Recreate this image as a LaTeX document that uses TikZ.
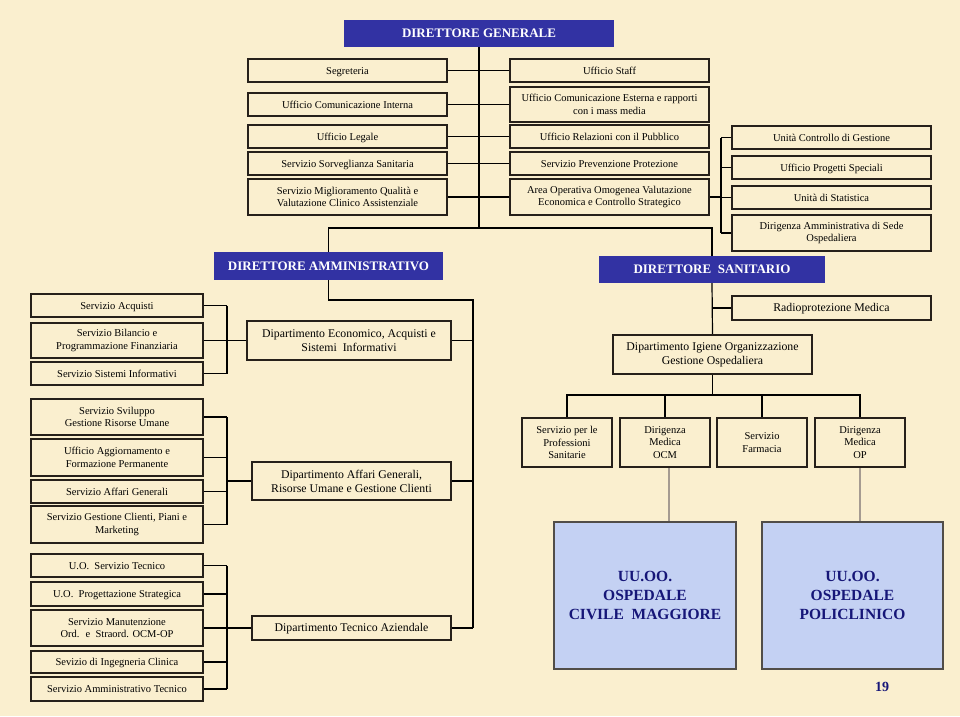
\documentclass[tikz,border=0pt]{standalone}
\usepackage{fontspec}
\setmainfont{Liberation Serif}
\usepackage{xcolor}
\usepackage{tikz}
\usetikzlibrary{positioning,calc,backgrounds}
\definecolor{DirBlue}{RGB}{50,50,163}

\begin{document}
\begin{tikzpicture}[x=1pt,y=-1pt]
	\definecolor{carta}{RGB}{250,239,207}
	\definecolor{bordo}{RGB}{38,32,26}
	\definecolor{celeste}{RGB}{196,209,243}
	\definecolor{navy}{RGB}{22,22,120}
	\definecolor{grigio}{RGB}{165,155,145}
	\tikzset{
		dim/.style 2 args={minimum width=#1, minimum height=#2},
		una/.style={align=none, text height=8pt, text depth=1pt},
		ufficio/.style={
			shape=rectangle,
			draw=bordo,
			line width=1.2pt,
			fill=carta,
			inner sep=1pt,
			align=center,
			font=\fontsize{10.5}{12.5}\selectfont,
			text=black
		},
		dipart/.style={ufficio, font=\fontsize{11.8}{14}\selectfont},
		direttore/.style={
			shape=rectangle,
			fill=DirBlue,
			inner sep=1pt,
			font=\fontsize{13}{15}\selectfont\bfseries,
			text=white
		},
		ospedale/.style={
			shape=rectangle,
			draw=bordo!80,
			line width=1.3pt,
			fill=celeste,
			align=center,
			font=\fontsize{15.5}{19}\selectfont\bfseries,
			text=navy
		},
		link/.style={draw=black, line width=1.2pt},
		glink/.style={draw=grigio, line width=2.4pt}
	}

	\useasboundingbox (0,0) rectangle (960,716);

	% direzione generale e staff
	\node[direttore, dim={270}{27}] (dg) at (479,33.5) {DIRETTORE GENERALE};

	\node[ufficio, una, dim={199}{23}] (seg)    at (347.5,70.5)  {Segreteria};
	\node[ufficio, una, dim={199}{23}] (comint) at (347.5,104.5) {Ufficio Comunicazione Interna};
	\node[ufficio, una, dim={199}{23}] (legale) at (347.5,136.5) {Ufficio Legale};
	\node[ufficio, una, dim={199}{23}] (sorv)   at (347.5,163.5) {Servizio Sorveglianza Sanitaria};
	\node[ufficio, dim={199}{36}] (migl)   at (347.5,197)   {Servizio Miglioramento Qualità e\\Valutazione Clinico Assistenziale};

	\node[ufficio, una, dim={199}{23}] (staff)  at (609.5,70.5)  {Ufficio Staff};
	\node[ufficio, dim={199}{35}] (comest) at (609.5,104.5) {Ufficio Comunicazione Esterna e rapporti\\con i mass media};
	\node[ufficio, una, dim={199}{23}] (urp)    at (609.5,136.5) {Ufficio Relazioni con il Pubblico};
	\node[ufficio, una, dim={199}{23}] (prev)   at (609.5,163.5) {Servizio Prevenzione Protezione};
	\node[ufficio, dim={199}{36}] (area)   at (609.5,197)   {Area Operativa Omogenea Valutazione\\Economica e Controllo Strategico};

	\node[ufficio, una, dim={199}{23}] (ucg)    at (831.5,137.5) {Unità Controllo di Gestione};
	\node[ufficio, una, dim={199}{23}] (ups)    at (831.5,167.5) {Ufficio Progetti Speciali};
	\node[ufficio, una, dim={199}{23}] (stat)   at (831.5,197.5) {Unità di Statistica};
	\node[ufficio, dim={199}{36}] (dasede) at (831.5,233)   {Dirigenza Amministrativa di Sede\\Ospedaliera};

	\node[direttore, dim={229}{28}] (da) at (328.5,266)   {DIRETTORE AMMINISTRATIVO};
	\node[direttore, dim={226}{27}] (ds) at (712,269.5)   {DIRETTORE~ SANITARIO};

	% area amministrativa
	\node[ufficio, una, dim={172}{23}] (acq)    at (117,305.5) {Servizio Acquisti};
	\node[ufficio, dim={172}{35}] (bil)    at (117,340.5) {Servizio Bilancio e\\Programmazione Finanziaria};
	\node[ufficio, una, dim={172}{23}] (sinf)   at (117,373.5) {Servizio Sistemi Informativi};
	\node[ufficio, dim={172}{36}] (svil)   at (117,417)   {Servizio Sviluppo\\Gestione Risorse Umane};
	\node[ufficio, dim={172}{37}] (aggior) at (117,457.5) {Ufficio Aggiornamento e\\Formazione Permanente};
	\node[ufficio, una, dim={172}{23}] (affgen) at (117,491.5) {Servizio Affari Generali};
	\node[ufficio, dim={172}{37}] (gcli)   at (117,524.5) {Servizio Gestione Clienti, Piani e\\Marketing};
	\node[ufficio, una, dim={172}{23}] (ust)    at (117,565.5) {U.O.~ Servizio Tecnico};
	\node[ufficio, una, dim={172}{24}] (uprog)  at (117,594)   {U.O.~ Progettazione Strategica};
	\node[ufficio, dim={172}{36}] (manut)  at (117,628)   {Servizio Manutenzione\\Ord.~ e~ Straord. OCM-OP};
	\node[ufficio, una, dim={172}{22}] (ingc)   at (117,662)   {Sevizio di Ingegneria Clinica};
	\node[ufficio, una, dim={172}{24}] (ammt)   at (117,689)   {Servizio Amministrativo Tecnico};

	\node[dipart, dim={204}{39}] (decon) at (349,340.5)  {Dipartimento Economico, Acquisti e\\Sistemi~ Informativi};
	\node[dipart, dim={199}{38}] (daff)  at (351.5,481)  {Dipartimento Affari Generali,\\Risorse Umane e Gestione Clienti};
	\node[dipart, una, dim={199}{24}] (dtec)  at (351.5,628)  {Dipartimento Tecnico Aziendale};

	% area sanitaria
	\node[dipart, una, dim={199}{24}] (radio) at (831.5,308)  {Radioprotezione Medica};
	\node[dipart, dim={199}{39}] (digo)  at (712.5,354.5) {Dipartimento Igiene Organizzazione\\Gestione Ospedaliera};

	\node[ufficio, dim={90}{49}] (sprof) at (567,442.5) {Servizio per le\\Professioni\\Sanitarie};
	\node[ufficio, dim={90}{49}] (dmocm) at (665,442.5) {Dirigenza\\Medica\\OCM};
	\node[ufficio, dim={90}{49}] (farm)  at (762,442.5) {Servizio\\Farmacia};
	\node[ufficio, dim={90}{49}] (dmop)  at (860,442.5) {Dirigenza\\Medica\\OP};

	\node[ospedale, dim={182}{147}] (ocmh) at (645,595.5)   {UU.OO.\\OSPEDALE\\CIVILE~ MAGGIORE};
	\node[ospedale, dim={181}{147}] (polh) at (852.5,595.5) {UU.OO.\\OSPEDALE\\POLICLINICO};

	\node[font=\fontsize{14}{16}\selectfont\bfseries, text=navy] (pag) at (882,687) {19};

	\coordinate (gbus) at (479,228);
	\coordinate (abus) at (721,197);
	\coordinate (amm)  at (473,300);
	\coordinate (lb1)  at (227,340.5);
	\coordinate (lb2)  at (227,481);
	\coordinate (lb3)  at (227,628);
	\coordinate (sbus) at (713,395);

	\begin{scope}[on background layer]
		\fill[carta] (0,0) rectangle (960,716);

		\draw[link] (dg.south) -- (gbus);
		\draw[link] (da.north) |- (gbus) -| (ds.north);
		\foreach \sx/\dx in {seg/staff, comint/comest, legale/urp, sorv/prev, migl/area}
			\draw[link] (\sx.east) -- (\dx.west);

		\draw[link] (area.east) -- (abus);
		\draw[link] (ucg.west -| abus) -- (dasede.west -| abus);
		\foreach \n in {ucg,ups,stat,dasede}
			\draw[link] (\n.west) -- (\n.west -| abus);

		% dipartimenti amministrativi
		\draw[link] (da.south) |- (amm) -- (amm |- dtec.east);
		\foreach \n in {decon,daff,dtec}
			\draw[link] (\n.east) -- (\n.east -| amm);

		\draw[link] (acq.east -| lb1) -- (sinf.east -| lb1);
		\foreach \n in {acq,bil,sinf}
			\draw[link] (\n.east) -- (\n.east -| lb1);
		\draw[link] (lb1) -- (decon.west);

		\draw[link] (svil.east -| lb2) -- (gcli.east -| lb2);
		\foreach \n in {svil,aggior,affgen,gcli}
			\draw[link] (\n.east) -- (\n.east -| lb2);
		\draw[link] (lb2) -- (daff.west);

		\draw[link] (ust.east -| lb3) -- (ammt.east -| lb3);
		\foreach \n in {ust,uprog,manut,ingc,ammt}
			\draw[link] (\n.east) -- (\n.east -| lb3);
		\draw[link] (lb3) -- (dtec.west);

		% direzione sanitaria
		\draw[link] (ds.south) -- (digo.north);
		\draw[link] (radio.west) -- (radio.west -| ds.south);
		\draw[link] (digo.south) -- (digo.south |- sbus);
		\draw[link] (sprof.north) |- (sbus) -| (dmop.north);
		\foreach \n in {dmocm,farm}
			\draw[link] (\n.north) -- (\n.north |- sbus);

		\draw[glink] ([xshift=4pt]dmocm.south) -- ([xshift=4pt]dmocm.south |- ocmh.north);
		\draw[glink] (dmop.south) -- (dmop.south |- polh.north);
	\end{scope}
\end{tikzpicture}
\end{document}
